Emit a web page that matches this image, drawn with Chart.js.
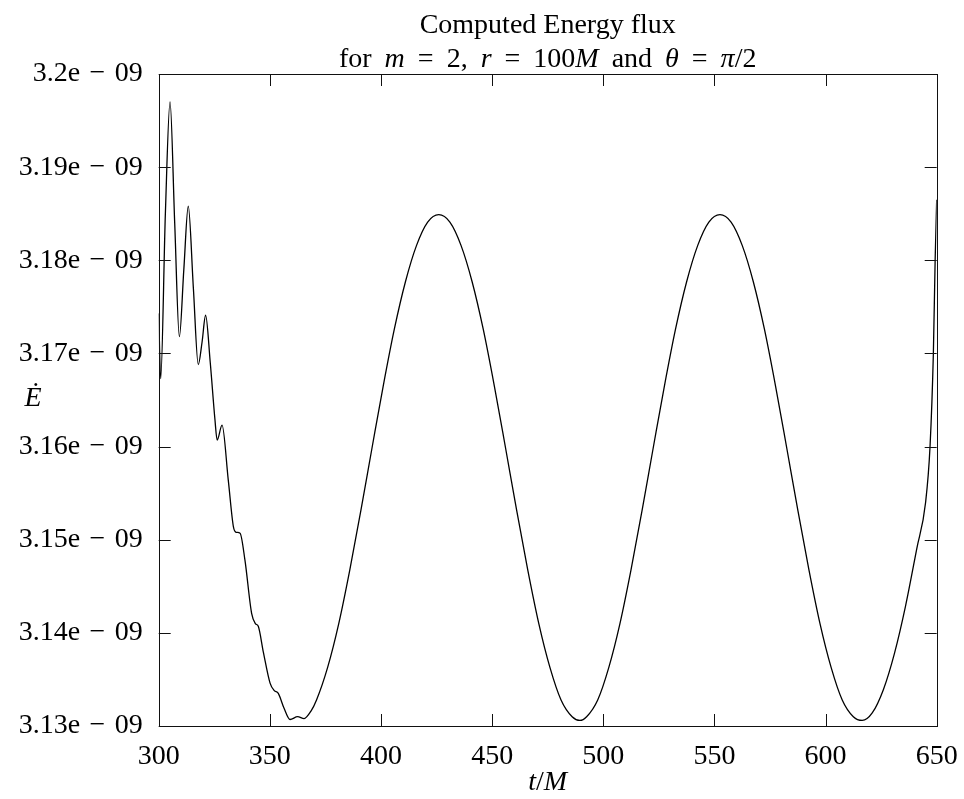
<!DOCTYPE html>
<html>
<head>
<meta charset="utf-8">
<script src="https://cdn.jsdelivr.net/npm/chart.js@4.4.1/dist/chart.umd.min.js"></script>
<style>
  html, body { margin: 0; padding: 0; background: #fff; }
</style>
</head>
<body>
<canvas id="fluxChart" width="964" height="799"></canvas>
<script>
// t/M values and the energy flux (in units of 1e-09)
let tValues = [300, 300.9, 303, 305.1, 307.2, 309.3, 311.3, 313.3, 315.6, 317.8,
  319.5, 321.1, 323.2, 325.3, 326.3, 328.5, 331.3, 333.6, 334.8, 336.6,
  338.8, 341.8, 343.5, 344.8, 347.1, 350.1, 352, 353.8, 356.4, 359.1,
  362.5, 365.4, 368.5,
  371, 376, 381, 386, 391, 396, 401, 406, 411, 416, 421, 426,
  431, 436, 441, 446, 451, 456, 461, 466, 471, 476, 481, 486, 489.5,
  492.5, 497.5, 502.5, 507.5, 512.5, 517.5, 522.5, 527.5, 532.5, 537.5, 542.5, 547.5, 552.5,
  557.5, 562.5, 567.5, 572.5, 577.5, 582.5, 587.5, 592.5, 597.5, 602.5, 607.5, 612.5, 616.5,
  621, 626, 631, 636, 641, 645, 647, 648.5, 649.3, 650];

let fluxValues = [3.1743, 3.1673, 3.1850, 3.1970, 3.1840, 3.1718, 3.1790, 3.1858, 3.1770, 3.1688,
  3.1712, 3.1741, 3.1690, 3.1629, 3.1607, 3.1623, 3.1564, 3.1514, 3.1508, 3.1507,
  3.1478, 3.1421, 3.1410, 3.1407, 3.1379, 3.1346, 3.1338, 3.1335, 3.1319, 3.1307,
  3.1310, 3.1308, 3.1316,
  3.1328, 3.1363, 3.1410, 3.1468, 3.1532, 3.1599, 3.1665, 3.1726, 3.1777, 3.1816, 3.1841, 3.1849,
  3.1841, 3.1816, 3.1777, 3.1726, 3.1665, 3.1599, 3.1532, 3.1468, 3.1410, 3.1363, 3.1328, 3.1310, 3.1306,
  3.1310, 3.1328, 3.1363, 3.1410, 3.1468, 3.1532, 3.1599, 3.1665, 3.1726, 3.1777, 3.1816, 3.1841, 3.1849,
  3.1841, 3.1816, 3.1777, 3.1726, 3.1665, 3.1599, 3.1532, 3.1468, 3.1410, 3.1363, 3.1328, 3.1310, 3.1306,
  3.1314, 3.1339, 3.1378, 3.1429, 3.1490, 3.1540, 3.1600, 3.1700, 3.1800, 3.1865];

let xRange = [300, 650];
let xStep = 50;
let yRange = [3.13, 3.2];
let yStep = 0.01;
let tickSuffix = 'e\u2004\u2212\u200409';

let points = tValues.map((t, i) => ({ x: t, y: fluxValues[i] }));

const serif = "'Liberation Serif', 'Times New Roman', serif";
const fontSize = 28;

// draw a line of text made of roman / italic pieces separated by gaps, centred on cx
function drawMath(ctx, parts, cx, baseline, gap) {
  const widths = parts.map(p => {
    ctx.font = (p[1] ? 'italic ' : '') + fontSize + 'px ' + serif;
    return ctx.measureText(p[0]).width + (p[2] ? gap : 0);
  });
  let x = cx - widths.reduce((s, w) => s + w, 0) / 2;
  parts.forEach((p, i) => {
    ctx.font = (p[1] ? 'italic ' : '') + fontSize + 'px ' + serif;
    ctx.fillText(p[0], x, baseline);
    x += widths[i];
  });
}

// gnuplot style frame: box, inward ticks on all four sides, titles
const framePlugin = {
  id: 'frame',
  afterDatasetsDraw(chart) {
    const { ctx, chartArea: a, scales } = chart;
    const xs = scales.x, ys = scales.y;
    const len = 12;
    ctx.save();
    ctx.strokeStyle = '#111';
    ctx.lineWidth = 1;
    ctx.beginPath();
    xs.ticks.forEach(t => {
      const px = Math.round(xs.getPixelForValue(t.value)) + 0.5;
      ctx.moveTo(px, a.bottom); ctx.lineTo(px, a.bottom - len);
      ctx.moveTo(px, a.top); ctx.lineTo(px, a.top + len);
    });
    ys.ticks.forEach(t => {
      const py = Math.round(ys.getPixelForValue(t.value)) + 0.5;
      ctx.moveTo(a.left, py); ctx.lineTo(a.left + len, py);
      ctx.moveTo(a.right, py); ctx.lineTo(a.right - len, py);
    });
    ctx.stroke();
    ctx.strokeRect(Math.round(a.left) + 0.5, Math.round(a.top) + 0.5,
      Math.round(a.right - a.left), Math.round(a.bottom - a.top));

    ctx.fillStyle = '#000';
    ctx.textBaseline = 'alphabetic';
    ctx.textAlign = 'left';
    const cx = (a.left + a.right) / 2;
    drawMath(ctx, [['Computed Energy flux', false]], cx, 33, 0);
    drawMath(ctx, [['for', false, 1], ['m', true, 1], ['=', false, 1], ['2,', false, 1],
      ['r', true, 1], ['=', false, 1], ['100', false], ['M', true, 1], ['and', false, 1],
      ['\u03b8', true, 1], ['=', false, 1], ['\u03c0', true], ['/2', false]], cx, 67, 13);
    drawMath(ctx, [['t', true], ['/', false], ['M', true]], cx, 790, 0);
    drawMath(ctx, [['\u0116', true]], 33, 406, 0);
    ctx.restore();
  }
};

let ctxFlux = document.getElementById('fluxChart').getContext('2d');

let fluxChart = new Chart(ctxFlux, {
  type: 'line',
  data: {
    datasets: [{
      data: points,
      borderColor: '#000',
      borderWidth: 1.3,
      pointRadius: 0,
      fill: false,
      cubicInterpolationMode: 'monotone'
    }]
  },
  options: {
    responsive: false,
    devicePixelRatio: 1,
    animation: false,
    layout: { padding: { top: 74, right: 27.3, left: 0, bottom: 0 } },
    plugins: {
      legend: { display: false },
      title: { display: false },
      tooltip: { enabled: false }
    },
    scales: {
      x: {
        type: 'linear',
        min: xRange[0],
        max: xRange[1],
        grid: { display: false, drawTicks: false },
        border: { display: false },
        ticks: {
          stepSize: xStep,
          autoSkip: false,
          maxRotation: 0,
          padding: 14,
          color: '#000',
          font: { family: serif, size: fontSize }
        },
        afterFit(scale) {
          scale.height = 73;
          scale.paddingLeft = 0;
          scale.paddingRight = 0;
        }
      },
      y: {
        type: 'linear',
        min: yRange[0],
        max: yRange[1],
        grid: { display: false, drawTicks: false },
        border: { display: false },
        ticks: {
          stepSize: yStep,
          autoSkip: false,
          padding: 16,
          color: '#000',
          font: { family: serif, size: fontSize },
          callback: v => Number(v.toFixed(2)).toString() + tickSuffix
        },
        afterFit(scale) {
          scale.width = 158.7;
          scale.paddingTop = 0;
          scale.paddingBottom = 0;
        }
      }
    }
  },
  plugins: [framePlugin]
});
</script>
</body>
</html>
